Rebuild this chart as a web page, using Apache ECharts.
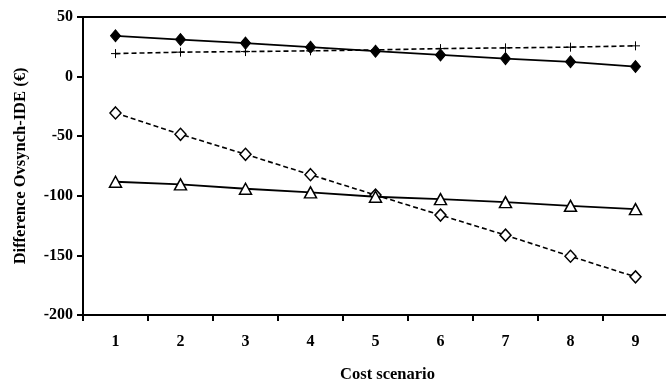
<!DOCTYPE html>
<html>
<head>
<meta charset="utf-8">
<script src="https://cdn.jsdelivr.net/npm/echarts@6/dist/echarts.min.js"></script>
<style>
  html, body { margin: 0; padding: 0; background: #fff; }
  #chart { width: 666px; height: 379px; }
</style>
</head>
<body>
<div id="chart"></div>
<script>
// 成本情景
const scenarios = ['1', '2', '3', '4', '5', '6', '7', '8', '9']
// 四条曲线的数值
const filledDiamond = [34.2, 31.1, 28.1, 24.7, 21.3, 18.2, 15.1, 12.4, 8.4]
const plusLine = [19.3, 20.5, 21.0, 21.6, 22.4, 23.5, 24.1, 24.7, 25.8]
const openDiamond = [-30.5, -48.4, -65.2, -82.3, -99.4, -116.2, -133.0, -150.7, -168.0]
const openTriangle = [-88.2, -90.4, -94.1, -97.1, -100.8, -102.8, -105.3, -108.4, -111.2]

const font = '"Liberation Serif", "Times New Roman", serif'

const chart = echarts.init(document.getElementById('chart'))
const option = {
  backgroundColor: '#fff',
  animation: false,
  grid: { left: 83, right: -2, top: 17, bottom: 64, outerBoundsMode: 'none', containLabel: false },
  xAxis: [
    {
      type: 'category',
      data: scenarios,
      boundaryGap: true,
      name: 'Cost scenario',
      nameLocation: 'middle',
      nameGap: 51,
      nameTextStyle: { fontFamily: font, fontWeight: 'bold', fontSize: 16.5, color: '#000', padding: [0, 0, 0, 24] },
      axisLine: { onZero: false, lineStyle: { color: '#000', width: 2 } },
      axisTick: { show: true, alignWithLabel: false, length: 6, lineStyle: { color: '#000', width: 2 } },
      axisLabel: { margin: 19, fontFamily: font, fontWeight: 'bold', fontSize: 16, color: '#000' },
      splitLine: { show: false }
    },
    {
      type: 'category',
      data: scenarios,
      position: 'top',
      axisLine: { onZero: false, lineStyle: { color: '#000', width: 2 } },
      axisTick: { show: false },
      axisLabel: { show: false },
      splitLine: { show: false }
    }
  ],
  yAxis: {
    type: 'value',
    min: -200,
    max: 50,
    interval: 50,
    name: 'Difference Ovsynch-IDE (€)',
    nameLocation: 'middle',
    nameGap: 54,
    nameTextStyle: { fontFamily: font, fontWeight: 'bold', fontSize: 16.5, color: '#000' },
    axisLine: { show: true, lineStyle: { color: '#000', width: 2 } },
    axisTick: { show: true, length: 6, lineStyle: { color: '#000', width: 2 } },
    axisLabel: { margin: 10, fontFamily: font, fontWeight: 'bold', fontSize: 16, color: '#000' },
    splitLine: { show: false }
  },
  series: [
    {
      type: 'line',
      data: filledDiamond,
      symbol: 'diamond',
      symbolSize: [10, 12],
      lineStyle: { color: '#000', width: 1.8, type: 'solid' },
      itemStyle: { color: '#000', borderColor: '#000' }
    },
    {
      type: 'line',
      data: plusLine,
      symbol: 'path://M0,5L10,5M5,0L5,10',
      symbolSize: 9,
      lineStyle: { color: '#000', width: 1.6, type: [5, 3] },
      itemStyle: { color: 'none', borderColor: '#000', borderWidth: 1 }
    },
    {
      type: 'line',
      data: openDiamond,
      symbol: 'diamond',
      symbolSize: [11, 12],
      lineStyle: { color: '#000', width: 1.6, type: [5, 3] },
      itemStyle: { color: '#fff', borderColor: '#000', borderWidth: 1.5 }
    },
    {
      type: 'line',
      data: openTriangle,
      symbol: 'triangle',
      symbolSize: [12, 11],
      lineStyle: { color: '#000', width: 1.8, type: 'solid' },
      itemStyle: { color: '#fff', borderColor: '#000', borderWidth: 1.5 }
    }
  ]
}
chart.setOption(option)
</script>
</body>
</html>
